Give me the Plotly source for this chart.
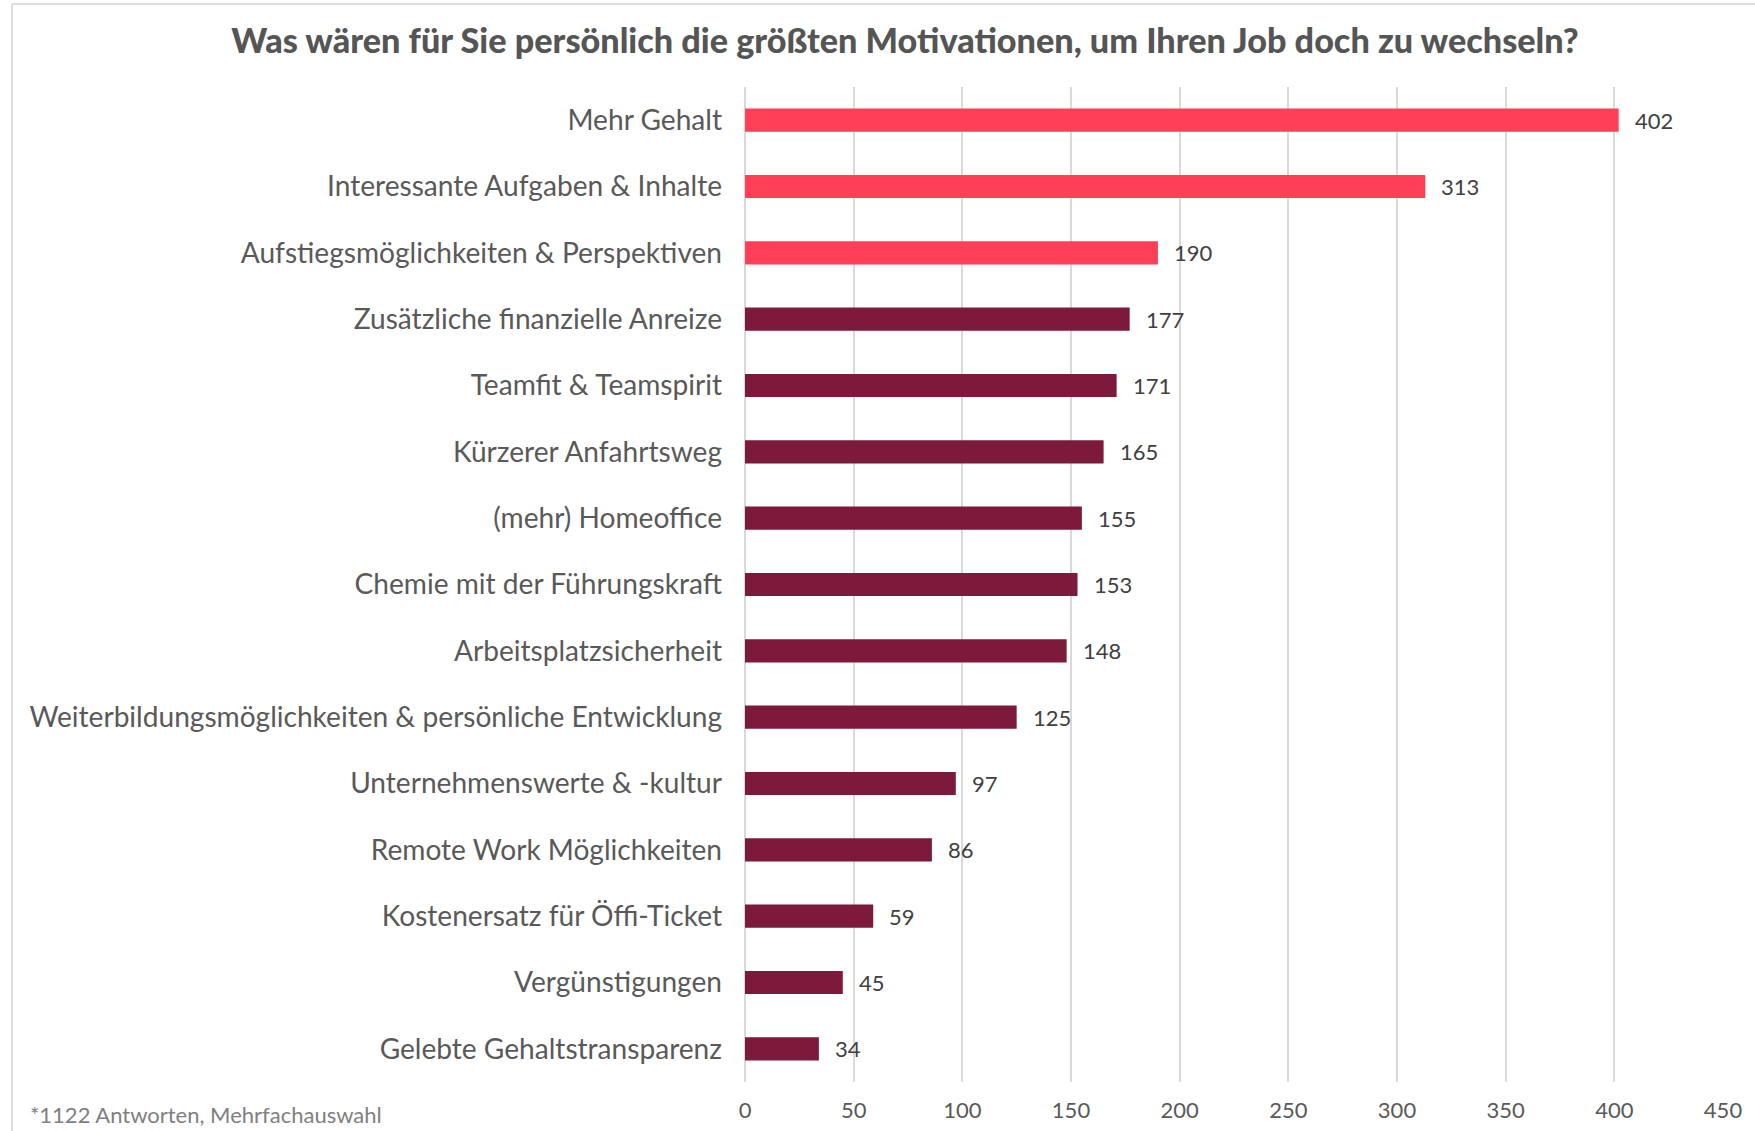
import plotly.graph_objects as go

categories = [
    "Mehr Gehalt",
    "Interessante Aufgaben & Inhalte",
    "Aufstiegsmöglichkeiten & Perspektiven",
    "Zusätzliche finanzielle Anreize",
    "Teamfit & Teamspirit",
    "Kürzerer Anfahrtsweg",
    "(mehr) Homeoffice",
    "Chemie mit der Führungskraft",
    "Arbeitsplatzsicherheit",
    "Weiterbildungsmöglichkeiten & persönliche Entwicklung",
    "Unternehmenswerte & -kultur",
    "Remote Work Möglichkeiten",
    "Kostenersatz für Öffi-Ticket",
    "Vergünstigungen",
    "Gelebte Gehaltstransparenz",
]
values = [402, 313, 190, 177, 171, 165, 155, 153, 148, 125, 97, 86, 59, 45, 34]
highlight_count = 3
x_ticks = [0, 50, 100, 150, 200, 250, 300, 350, 400, 450]

title_text = "Was wären für Sie persönlich die größten Motivationen, um Ihren Job doch zu wechseln?"
footnote_text = "*1122 Antworten, Mehrfachauswahl"

RED = "#FF3F55"
MAROON = "#7D1A3B"
colors = [RED if i < highlight_count else MAROON for i in range(len(values))]

W, H = 1755, 1131
L, R, T, B = 745, 32, 87, 49
pw = W - L - R
ph = H - T - B

def px_x(x):
    return (x - L) / pw

def px_y(y):
    return (H - B - y) / ph

FONT = "Lato"

fig = go.Figure()
fig.add_trace(go.Bar(
    x=values,
    y=categories,
    orientation="h",
    marker=dict(color=colors, line=dict(width=0)),
    width=0.35,
    hoverinfo="x+y",
))

annotations = []
for c, v in zip(categories, values):
    annotations.append(dict(
        x=v, y=c, xref="x", yref="y", text=str(v), showarrow=False,
        xanchor="left", yanchor="middle", xshift=14,
        font=dict(family=FONT, size=22, color="#404040"),
    ))

annotations.append(dict(
    x=px_x(28), y=px_y(1114), xref="paper", yref="paper",
    text=footnote_text, showarrow=False, xanchor="left", yanchor="middle",
    font=dict(family=FONT, size=22, color="#808080"),
))

shapes = [
    dict(type="line", xref="paper", yref="paper",
         x0=px_x(12), x1=px_x(W + 5), y0=px_y(4), y1=px_y(4),
         line=dict(color="#DDDDDD", width=2)),
    dict(type="line", xref="paper", yref="paper",
         x0=px_x(12), x1=px_x(12), y0=px_y(4), y1=px_y(H + 5),
         line=dict(color="#DDDDDD", width=2)),
]

fig.update_layout(
    width=W, height=H,
    margin=dict(l=L, r=R, t=T, b=B, autoexpand=False),
    paper_bgcolor="white", plot_bgcolor="white",
    showlegend=False,
    title=dict(
        text=title_text,
        x=905 / W, xanchor="center", y=1 - 41 / H, yanchor="middle",
        font=dict(family=FONT, size=34.2, color="#555555", weight=900),
    ),
    annotations=annotations,
    shapes=shapes,
    bargap=0.65,
)

fig.update_xaxes(
    range=[0, 450], tickvals=x_ticks, ticktext=[str(t) for t in x_ticks],
    showgrid=True, gridcolor="#D9D9D9", gridwidth=1.5,
    zeroline=True, zerolinecolor="#D9D9D9", zerolinewidth=1.5,
    showline=False, ticks="",
    tickfont=dict(family=FONT, size=22, color="#595959"),
    ticklabelstandoff=13,
)
fig.update_yaxes(
    categoryorder="array", categoryarray=categories,
    autorange="reversed",
    showgrid=False, zeroline=False, showline=False, ticks="",
    tickfont=dict(family=FONT, size=28.1, color="#595959"),
    ticklabelstandoff=22,
)

fig.write_html(
    "out.html",
    config={"displayModeBar": False},
    post_script="document.body.style.margin='0px';",
)
